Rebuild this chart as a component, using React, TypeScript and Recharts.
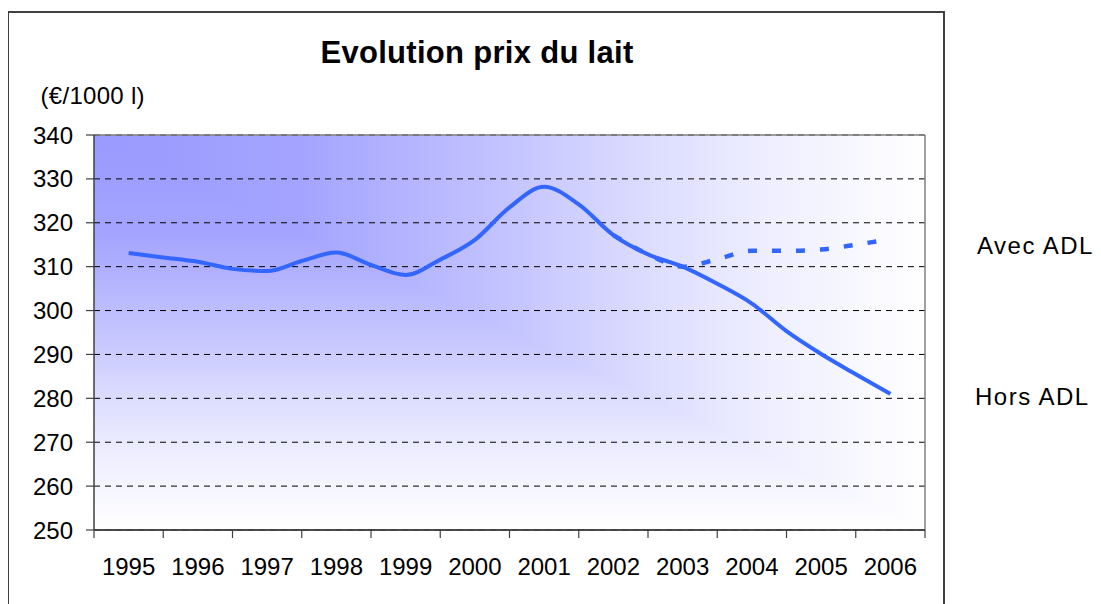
import React from 'react';
import { LineChart, Line, XAxis, YAxis, CartesianGrid, ReferenceLine } from 'recharts';

const FONT = '"Liberation Sans", Arial, Helvetica, sans-serif';

const yearLabels = [1995, 1996, 1997, 1998, 1999, 2000, 2001, 2002, 2003, 2004, 2005, 2006];
const yearBoundaries = [1994.5, 1995.5, 1996.5, 1997.5, 1998.5, 1999.5, 2000.5, 2001.5, 2002.5, 2003.5, 2004.5, 2005.5, 2006.5];
const yTicks = [250, 260, 270, 280, 290, 300, 310, 320, 330, 340];

const timePoints = [
  1995, 1995.5, 1996, 1996.5, 1997, 1997.5, 1998, 1998.5, 1999, 1999.5, 2000, 2000.5,
  2001, 2001.5, 2002, 2002.5, 2003, 2003.5, 2004, 2004.5, 2005, 2005.5, 2006,
];
const horsADL = [
  313.1, 312.1, 311.1, 309.5, 309.0, 311.3, 313.2, 310.4, 308.1, 311.6, 316.1, 323.5,
  328.2, 324.2, 317.2, 312.8, 310.0, 306.1, 301.6, 295.3, 290.1, 285.5, 281.0,
];
const avecADL: (number | null)[] = [
  null, null, null, null, null, null, null, null, null, null, null, null,
  null, null, 317.2, 312.8, 310.0, 311.7, 313.6, 313.6, 313.9, 315.0, 316.3,
];

const data = timePoints.map((t, i) => ({ t, hors: horsADL[i], avec: avecADL[i] }));

const tickStyle = { fill: '#000', fontSize: 24, fontFamily: FONT };

const gradStops = [
  { o: 0, c: '#9999FF' },
  { o: 0.25, c: '#A4A4FF' },
  { o: 0.5, c: '#C4C4FF' },
  { o: 0.65, c: '#DADAFF' },
  { o: 0.8, c: '#EDEDFF' },
  { o: 1, c: '#FFFFFF' },
];

const EmptyTick = () => <g />;

export default function App() {
  return (
    <div style={{ position: 'relative', width: 1093, height: 596, overflow: 'hidden', background: '#fff' }}>
      <div
        style={{
          position: 'absolute',
          left: -1,
          top: 3,
          width: 938,
          height: 640,
          border: '2px solid #404040',
          boxSizing: 'border-box',
        }}
      />
      <div style={{ position: 'absolute', left: 0, top: 0 }}>
        <LineChart
          width={1093}
          height={596}
          data={data}
          margin={{ top: 127, right: 176, left: 6, bottom: 14 }}
        >
          <defs>
            <linearGradient id="gH" x1="0" y1="0" x2="1" y2="0">
              {gradStops.map((s) => (
                <stop key={s.o} offset={s.o} stopColor={s.c} />
              ))}
            </linearGradient>
            <linearGradient id="gV" x1="0" y1="0" x2="0" y2="1">
              {gradStops.map((s) => (
                <stop key={s.o} offset={s.o} stopColor={s.c} />
              ))}
            </linearGradient>
            <pattern
              id="plotBg"
              patternUnits="objectBoundingBox"
              patternContentUnits="objectBoundingBox"
              x="0"
              y="0"
              width="1"
              height="1"
            >
              <rect x="0" y="0" width="1" height="1" fill="url(#gH)" />
              <polygon points="0,0 1,1 0,1" fill="url(#gV)" />
            </pattern>
          </defs>
          <CartesianGrid
            xAxisId="a"
            vertical={false}
            stroke="#000"
            strokeDasharray="6 5"
            fill="url(#plotBg)"
            fillOpacity={1}
          />
          <XAxis
            xAxisId="b"
            type="number"
            dataKey="t"
            domain={[1994.5, 2006.5]}
            ticks={yearLabels}
            interval={0}
            tickLine={false}
            axisLine={false}
            height={40}
            tick={tickStyle}
            tickFormatter={(v: number) => String(v)}
          />
          <XAxis
            xAxisId="a"
            type="number"
            dataKey="t"
            domain={[1994.5, 2006.5]}
            ticks={yearBoundaries}
            interval={0}
            tick={<EmptyTick />}
            tickSize={8}
            height={20}
            axisLine={{ stroke: '#404040', strokeWidth: 1.5 }}
            tickLine={{ stroke: '#404040', strokeWidth: 1.2 }}
          />
          <YAxis
            type="number"
            domain={[250, 340]}
            ticks={yTicks}
            interval={0}
            width={80}
            tickSize={8}
            tickMargin={13}
            tick={tickStyle}
            axisLine={{ stroke: '#404040', strokeWidth: 1.5 }}
            tickLine={{ stroke: '#404040', strokeWidth: 1.2 }}
          />
          <ReferenceLine xAxisId="a" y={340} stroke="#808080" strokeWidth={1.5} />
          <ReferenceLine xAxisId="a" x={2006.5} stroke="#808080" strokeWidth={1.5} />
          <ReferenceLine xAxisId="a" y={250} stroke="#404040" strokeWidth={1.5} />
          <Line
            xAxisId="a"
            dataKey="hors"
            type="monotone"
            stroke="#3366FF"
            strokeWidth={4}
            dot={false}
            activeDot={false}
            isAnimationActive={false}
          />
          <Line
            xAxisId="a"
            dataKey="avec"
            type="monotone"
            stroke="#3366FF"
            strokeWidth={4.5}
            strokeDasharray="9 15"
            dot={false}
            activeDot={false}
            isAnimationActive={false}
          />
        </LineChart>
      </div>
      <svg
        width={1093}
        height={596}
        style={{ position: 'absolute', left: 0, top: 0, pointerEvents: 'none' }}
      >
        <text x={469} y={55} textAnchor="middle" fontFamily={FONT} fontSize={31} fontWeight="bold" letterSpacing={0.3} fill="#000">
          Evolution prix du lait
        </text>
        <text x={32.5} y={96} fontFamily={FONT} fontSize={24} letterSpacing={0.3} fill="#000">
          (€/1000 l)
        </text>
        <text x={969} y={245.5} fontFamily={FONT} fontSize={24} letterSpacing={1.5} fill="#000">
          Avec ADL
        </text>
        <text x={967} y={397} fontFamily={FONT} fontSize={24} letterSpacing={1.5} fill="#000">
          Hors ADL
        </text>
      </svg>
    </div>
  );
}
